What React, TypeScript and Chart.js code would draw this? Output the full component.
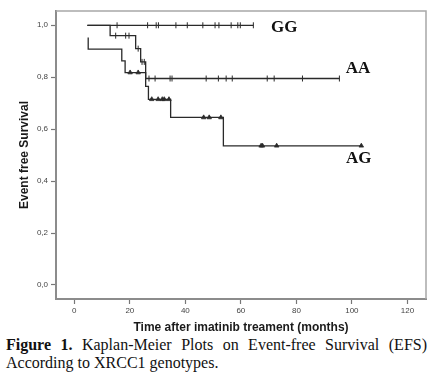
import React, { useEffect, useRef } from "react";
import { Chart, registerables } from "chart.js";

Chart.register(...registerables);

// Kaplan-Meier data (months, survival proportion)
const ggStart = 4.7;
const ggEnd = 64.5;
const ggEventTimes: number[] = [];
const ggEventSurv: number[] = [];
const ggCensored = [15.4, 26.4, 29.5, 30.3, 36.6, 40.7, 46.3, 50.7, 52.1, 56.5, 58.9, 59.8, 64.5];

const aaStart = 4.7;
const aaEnd = 95.5;
const aaEventTimes = [12.9, 22.1, 23.9, 25.7];
const aaEventSurv = [0.96, 0.91, 0.859, 0.795];
const aaCensored = [14.9, 18.5, 19.7, 23.0, 24.4, 25.2, 26.9, 29.1, 34.5, 35.2, 47.5, 51.9, 54.7, 56.9, 69.5, 72.0, 82.2, 95.5];

const agStart = 5.0;
const agStartSurv = 0.953;
const agEnd = 103.4;
const agEventTimes = [5.0, 17.1, 18.3, 25.7, 26.7, 34.7, 53.7];
const agEventSurv = [0.908, 0.863, 0.818, 0.765, 0.715, 0.645, 0.536];
const agCensored = [20.1, 23.0, 27.9, 30.2, 31.7, 32.4, 34.1, 46.6, 48.6, 52.8, 67.3, 67.8, 72.9, 103.4];

const xTicks = [0, 20, 40, 60, 80, 100, 120];
const yTicks = [0, 0.2, 0.4, 0.6, 0.8, 1.0];

const groupLabels = ["GG", "AA", "AG"];
const labelAnchorX = [75.6, 102.2, 102.5];
const labelAnchorY = [0.992, 0.835, 0.488];

function stepPoints(start: number, startSurv: number, times: number[], surv: number[], end: number) {
  const pts = [{ x: start, y: startSurv }];
  times.forEach((t, i) => pts.push({ x: t, y: surv[i] }));
  pts.push({ x: end, y: surv.length ? surv[surv.length - 1] : startSurv });
  return pts;
}

function survAt(t: number, startSurv: number, times: number[], surv: number[]) {
  let s = startSurv;
  times.forEach((et, i) => {
    if (et <= t) s = surv[i];
  });
  return s;
}

const LINE = "#2a2a2a";

export default function App() {
  const ref = useRef<HTMLCanvasElement | null>(null);
  useEffect(() => {
    if (!ref.current) return;
    const framePlugin = {
      id: "frame",
      afterDraw(chart: any) {
        const { ctx, chartArea } = chart;
        ctx.save();
        ctx.strokeStyle = "#a8a8a8";
        ctx.lineWidth = 1.5;
        ctx.beginPath();
        ctx.moveTo(chartArea.left, chartArea.top);
        ctx.lineTo(chartArea.right, chartArea.top);
        ctx.lineTo(chartArea.right, chartArea.bottom);
        ctx.stroke();
        const xs = chart.scales.x;
        const ys = chart.scales.y;
        ctx.fillStyle = "#111";
        ctx.font = "bold 17px 'Liberation Serif', 'Times New Roman', serif";
        ctx.textAlign = "center";
        ctx.textBaseline = "middle";
        groupLabels.forEach((lab, i) => {
          ctx.fillText(lab, xs.getPixelForValue(labelAnchorX[i]), ys.getPixelForValue(labelAnchorY[i]));
        });
        ctx.restore();
      },
    };
    const chart = new Chart(ref.current, {
      type: "scatter",
      data: {
        datasets: [
          {
            label: "GG",
            data: stepPoints(ggStart, 1.0, ggEventTimes, ggEventSurv, ggEnd),
            showLine: true,
            stepped: true,
            borderColor: LINE,
            borderWidth: 1.3,
            pointRadius: 0,
          },
          {
            label: "AA",
            data: stepPoints(aaStart, 1.0, aaEventTimes, aaEventSurv, aaEnd),
            showLine: true,
            stepped: true,
            borderColor: LINE,
            borderWidth: 1.3,
            pointRadius: 0,
          },
          {
            label: "AG",
            data: stepPoints(agStart, agStartSurv, agEventTimes, agEventSurv, agEnd),
            showLine: true,
            stepped: true,
            borderColor: LINE,
            borderWidth: 1.3,
            pointRadius: 0,
          },
          {
            label: "GG censored",
            data: ggCensored.map((t) => ({ x: t, y: survAt(t, 1.0, ggEventTimes, ggEventSurv) })),
            pointStyle: "line",
            rotation: 90,
            pointRadius: 3,
            borderColor: LINE,
            borderWidth: 1,
          },
          {
            label: "AA censored",
            data: aaCensored.map((t) => ({ x: t, y: survAt(t, 1.0, aaEventTimes, aaEventSurv) })),
            pointStyle: "line",
            rotation: 90,
            pointRadius: 3,
            borderColor: LINE,
            borderWidth: 1,
          },
          {
            label: "AG censored",
            data: agCensored.map((t) => ({ x: t, y: survAt(t, agStartSurv, agEventTimes, agEventSurv) })),
            pointStyle: "triangle",
            pointRadius: 2.6,
            backgroundColor: LINE,
            borderColor: LINE,
            borderWidth: 0.8,
          },
        ],
      },
      options: {
        animation: false,
        responsive: false,
        layout: { padding: { top: 11, right: 12, left: 0, bottom: 0 } },
        plugins: { legend: { display: false }, tooltip: { enabled: false } },
        scales: {
          x: {
            type: "linear",
            min: -6.6,
            max: 126.7,
            afterFit: (s: any) => {
              s.height = 37;
            },
            afterBuildTicks: (s: any) => {
              s.ticks = xTicks.map((v) => ({ value: v }));
            },
            ticks: {
              includeBounds: false,
              stepSize: 20,
              padding: 2,
              color: "#444",
              font: { family: "'Liberation Sans', Arial, sans-serif", size: 8 },
            },
            grid: {
              display: true,
              drawOnChartArea: false,
              drawTicks: true,
              tickLength: 5,
              tickColor: "#777",
              tickWidth: 1.2,
            },
            border: { display: true, color: "#8c8c8c", width: 2 },
            title: {
              display: true,
              text: "Time after imatinib treament (months)",
              color: "#1a1a1a",
              font: { family: "'Liberation Sans', Arial, sans-serif", size: 12, weight: "bold" },
              padding: { top: 0, bottom: 0.8 },
            },
          },
          y: {
            type: "linear",
            min: -0.054,
            max: 1.055,
            afterFit: (s: any) => {
              s.width = 56;
            },
            afterBuildTicks: (s: any) => {
              s.ticks = yTicks.map((v) => ({ value: v }));
            },
            ticks: {
              includeBounds: false,
              stepSize: 0.2,
              padding: 3,
              color: "#444",
              font: { family: "'Liberation Sans', Arial, sans-serif", size: 8 },
              callback: (v: any) => Number(v).toFixed(1).replace(".", ","),
            },
            grid: {
              display: true,
              drawOnChartArea: false,
              drawTicks: true,
              tickLength: 5,
              tickColor: "#777",
              tickWidth: 1.2,
            },
            border: { display: true, color: "#8c8c8c", width: 2 },
            title: {
              display: true,
              text: "Event free Survival",
              color: "#1a1a1a",
              font: { family: "'Liberation Sans', Arial, sans-serif", size: 12, weight: "bold" },
              padding: { top: 17.8, bottom: 0 },
            },
          },
        },
      },
      plugins: [framePlugin],
    });
    return () => chart.destroy();
  }, []);

  return (
    <div style={{ position: "absolute", left: 0, top: 0, width: 438, height: 378, background: "#fff", overflow: "hidden" }}>
      <canvas ref={ref} width={438} height={336} style={{ position: "absolute", left: 0, top: 0, width: 438, height: 336 }} />
      <div
        style={{
          position: "absolute",
          left: 6,
          top: 336,
          width: 421,
          fontFamily: "'Liberation Serif', 'Times New Roman', serif",
          fontSize: 16,
          lineHeight: "18px",
          textAlign: "justify",
          color: "#111",
        }}
      >
        <b>Figure 1.</b> Kaplan-Meier Plots on Event-free Survival (EFS) According to XRCC1 genotypes.
      </div>
    </div>
  );
}
